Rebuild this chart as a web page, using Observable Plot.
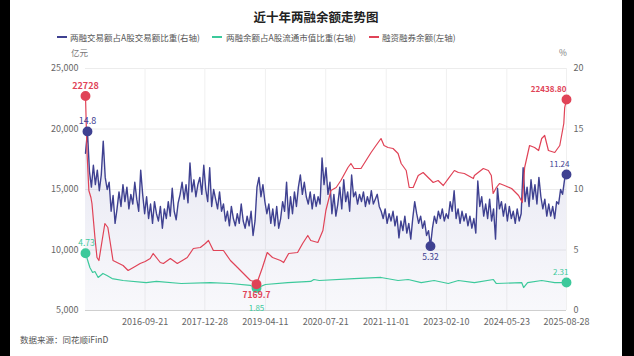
<!DOCTYPE html>
<html><head><meta charset="utf-8">
<script src="https://cdn.jsdelivr.net/npm/d3@7"></script>
<script src="https://cdn.jsdelivr.net/npm/@observablehq/plot@0.6"></script>
<style>
html,body{margin:0;padding:0;background:#000;width:634px;height:356px;overflow:hidden}
#card{position:absolute;left:10px;top:0;width:612px;height:356px;background:#fff;font-family:"Noto Sans CJK SC","Noto Sans",sans-serif;color:#555}
#title{position:absolute;left:0;width:612px;top:7px;text-align:center;font-size:12.5px;font-weight:bold;color:#222;line-height:20px}
.lg{position:absolute;top:31px;font-size:8.5px;line-height:12px;white-space:nowrap;color:#555}
.mk{position:absolute;top:36px;width:10px;height:2px}
.unit{position:absolute;top:46px;font-size:8.5px;line-height:12px;color:#777}
#src{position:absolute;left:10px;top:333px;font-size:8.5px;line-height:12px;color:#555}
#chart{position:absolute;left:0;top:46px}
</style></head>
<body>
<div id="card">
  <div id="title">近十年两融余额走势图</div>
  <div class="mk" style="left:47px;background:#3f4191"></div><div class="lg" style="left:60px">两融交易额占A股交易额比重(右轴)</div>
  <div class="mk" style="left:202px;background:#3cc99b"></div><div class="lg" style="left:216px">两融余额占A股流通市值比重(右轴)</div>
  <div class="mk" style="left:359px;background:#e04357"></div><div class="lg" style="left:372px">融资融券余额(左轴)</div>
  <div class="unit" style="left:61px">亿元</div>
  <div class="unit" style="left:549px">%</div>
  <div id="chart"></div>
  <div id="src">数据来源：同花顺iFinD</div>
</div>
<script>
// ---- data ----
const xTicks = ["2016-09-21","2017-12-28","2019-04-11","2020-07-21","2021-11-01","2023-02-10","2024-05-23","2025-08-28"];
const leftTicks = [5000,10000,15000,20000,25000];

// 融资融券余额 (亿元, left axis)
const redDates = ["2015-06-18","2015-06-29","2015-07-14","2015-07-30","2015-08-07","2015-08-30","2015-09-15","2015-09-30","2015-10-31","2015-11-15","2015-12-08","2015-12-24","2016-01-17","2016-04-04","2016-05-13","2016-07-06","2016-08-14","2016-09-22","2016-10-31","2016-11-23","2017-01-17","2017-02-10","2017-04-05","2017-05-29","2017-07-07","2017-08-14","2017-09-30","2017-11-23","2018-01-01","2018-01-25","2018-03-04","2018-05-21","2018-07-14","2018-09-07","2018-10-23","2018-12-16","2019-01-20","2019-02-01","2019-03-19","2019-04-25","2019-06-05","2019-08-06","2019-08-30","2019-10-08","2019-12-16","2020-01-24","2020-03-04","2020-03-27","2020-05-21","2020-06-29","2020-07-22","2020-08-30","2020-10-10","2020-11-15","2021-01-09","2021-02-01","2021-02-25","2021-04-20","2021-05-29","2021-07-07","2021-08-14","2021-09-22","2021-10-15","2021-11-15","2021-12-24","2022-02-01","2022-02-25","2022-04-05","2022-04-28","2022-05-29","2022-07-07","2022-08-14","2022-09-22","2022-10-31","2022-12-08","2023-01-17","2023-02-25","2023-04-13","2023-05-14","2023-06-29","2023-09-07","2023-09-15","2023-11-23","2024-01-01","2024-01-24","2024-02-07","2024-03-03","2024-03-27","2024-05-05","2024-06-29","2024-08-22","2024-09-20","2024-10-08","2024-11-15","2024-12-24","2025-01-24","2025-02-17","2025-03-12","2025-04-10","2025-05-29","2025-07-07","2025-08-07","2025-08-14","2025-08-28"];
const redValues = [22728,18222,14917,14338,13843,11033,9380,9132,11198,12190,11860,10785,9132,8719,8306,8636,8884,9050,9297,9711,8967,8884,9297,8884,9132,9380,10124,10206,10537,10785,9958,9958,9132,8554,8058,7479,7380,7169.7,8554,9793,9380,9132,8967,9711,9793,10537,11198,10785,10620,11611,13264,14917,15165,15743,16818,17148,16735,16735,17396,18057,18636,19214,18636,18470,18388,17974,17148,16570,15165,15165,16157,16405,15991,15578,15743,15330,15900,16570,16405,16322,15909,16157,16735,16570,16157,14669,15165,15495,15330,15082,14504,13925,16818,18636,18470,18222,19214,19462,18222,18057,18636,20454,21776,22438.80];

// 两融余额占A股流通市值比重 (%, right axis)
const greenDates = ["2015-06-18","2015-07-10","2015-07-22","2015-08-12","2015-08-30","2015-09-24","2015-10-31","2015-12-01","2016-01-10","2016-04-04","2016-09-30","2016-12-18","2017-06-28","2018-02-09","2018-07-14","2018-12-16","2019-02-01","2019-04-11","2019-10-01","2020-03-27","2020-04-20","2020-06-01","2021-02-25","2021-09-22","2022-02-01","2022-04-20","2022-07-30","2022-11-07","2023-02-25","2023-05-14","2023-09-15","2024-02-09","2024-03-03","2024-09-15","2024-09-30","2024-10-31","2025-02-17","2025-05-29","2025-08-28"];
const greenValues = [4.73,3.97,3.55,3.14,3.22,2.73,3.06,2.89,2.64,2.48,2.31,2.40,2.23,2.31,2.23,2.07,1.85,2.15,2.31,2.40,2.56,2.48,2.64,2.73,2.48,2.56,2.31,2.48,2.23,2.48,2.31,2.56,2.23,2.31,1.90,2.31,2.48,2.31,2.31];

// 两融交易额占A股交易额比重 (%, right axis), semi-monthly readings
const blueStart = "2015-06-18", blueEnd = "2025-08-28";
const blueValues = [
13.0,14.8,11.5,10.2,12.0,10.4,11.6,9.9,11.2,14.0,
11.0,10.0,10.6,8.2,9.5,7.2,8.4,9.8,8.6,10.4,
9.0,10.2,8.4,9.6,8.8,10.6,9.2,8.2,11.6,9.6,
8.0,9.4,7.6,8.8,7.2,9.0,8.0,7.4,8.6,6.8,
8.4,7.6,9.0,7.8,10.1,8.2,7.5,8.9,9.6,10.6,
9.2,10.4,8.9,12.2,9.8,10.8,9.4,10.4,11.0,9.6,
12.0,10.0,9.0,11.8,8.6,10.0,9.2,8.4,9.8,8.2,
8.8,7.4,8.2,7.0,8.6,7.6,7.0,8.0,7.2,8.8,
7.4,6.8,7.8,7.0,8.2,6.2,7.4,10.2,11.0,9.4,
10.4,9.0,8.0,8.8,7.2,8.4,7.0,8.6,6.8,7.6,
9.0,8.2,10.6,7.6,9.4,8.0,9.8,8.6,10.2,11.2,
9.6,10.6,9.4,8.8,9.8,8.4,9.6,8.6,9.4,8.8,
12.6,10.4,11.8,9.6,10.6,8.0,9.6,7.8,8.8,10.2,
8.4,10.8,9.0,9.8,8.2,11.2,9.4,9.8,8.8,9.6,
9.0,9.8,8.6,9.4,8.8,9.9,8.8,9.2,9.6,8.6,
8.2,7.6,8.4,7.2,8.0,7.4,8.2,7.0,7.8,6.0,
7.4,6.6,7.8,6.4,7.2,5.9,7.6,9.0,8.0,7.2,
7.8,6.8,7.4,6.2,6.6,5.32,6.8,7.8,7.2,8.2,
7.6,8.4,7.4,8.0,7.6,9.0,8.2,9.9,7.6,8.4,
7.2,8.2,7.4,8.0,7.0,7.8,6.8,7.6,6.4,10.7,
8.6,9.4,7.8,8.8,7.6,9.2,7.4,8.4,5.9,10.1,
8.4,9.0,7.8,8.8,7.4,8.6,7.6,8.2,7.2,8.4,
7.4,8.0,11.8,9.0,10.2,8.6,10.8,9.2,10.4,8.8,
11.0,9.4,8.4,9.2,7.8,8.8,7.8,8.6,7.6,9.0,
8.8,10.0,9.6,10.8,11.24];

// ---- build ----
const parse = d3.utcParse("%Y-%m-%d");
const BLUE = "#3f4191", GREEN = "#3cc99b", RED = "#e04357";
const r = v => 5000 + v * 1000; // right axis (0–20 %) onto left scale (5000–25000)
const red = redDates.map((d, i) => ({date: parse(d), v: redValues[i], y: redValues[i]}));
const green = greenDates.map((d, i) => ({date: parse(d), v: greenValues[i], y: r(greenValues[i])}));
const t0 = parse(blueStart), t1 = parse(blueEnd), n = blueValues.length;
const blue = blueValues.map((v, i) => ({date: new Date(+t0 + (t1 - t0) * i / (n - 1)), v, y: r(v)}));

function keyPoints(arr) {
  const mx = d3.greatest(arr, d => d.v), mn = d3.least(arr, d => d.v), last = arr[arr.length - 1];
  return {max: [{...mx, label: String(mx.v)}], min: [{...mn, label: String(mn.v)}], last: [{...last, label: last.v.toFixed(2)}]};
}
function annot(arr, color, opts) {
  const k = keyPoints(arr);
  return [
    Plot.dot([...k.max, ...k.min, ...k.last], {x: "date", y: "y", r: 4.2, fill: color, stroke: color}),
    Plot.text(k.max, {x: "date", y: "y", text: "label", dy: -10, dx: opts.maxDx || 0, fill: color, fontSize: opts.maxSize || 9, fontWeight: opts.bold ? "bold" : "normal"}),
    Plot.text(k.min, {x: "date", y: "y", text: "label", dy: opts.minDy || 11, fill: color, fontSize: opts.minSize || 8.5, fontWeight: opts.bold ? "bold" : "normal"}),
    Plot.text(k.last, {x: "date", y: "y", text: "label", dy: -10, dx: opts.lastDx || 0, textAnchor: "end", fill: color, fontSize: 8, fontWeight: opts.bold ? "bold" : "normal"})
  ];
}

const chart = Plot.plot({
  width: 612, height: 290,
  marginLeft: 75, marginRight: 56, marginTop: 22, marginBottom: 26,
  style: {fontFamily: '"Noto Sans CJK SC","Noto Sans",sans-serif', fontSize: "9px", color: "#666", background: "transparent"},
  x: {type: "utc", domain: [parse("2015-06-18"), parse("2025-08-28")]},
  y: {domain: [5000, 25000]},
  marks: [
    Plot.gridY(leftTicks.slice(1), {stroke: "#ececec", strokeOpacity: 1}),
    Plot.gridX(xTicks.map(parse), {stroke: "#f0f0f0", strokeOpacity: 1}),
    Plot.areaY(blue, {x: "date", y1: 5000, y2: "y", fill: "url(#blueGrad)"}),
    Plot.ruleY([5000], {stroke: "#cfcfcf"}),
    Plot.axisY(leftTicks, {anchor: "left", tickFormat: d3.format(","), tickSize: 0, tickPadding: 7, label: null}),
    Plot.axisY(leftTicks, {anchor: "right", tickFormat: d => (d - 5000) / 1000, tickSize: 0, tickPadding: 7, label: null, textAnchor: "start"}),
    Plot.axisX(xTicks.map(parse), {tickFormat: d3.utcFormat("%Y-%m-%d"), tickSize: 0, tickPadding: 8, label: null}),
    Plot.line(green, {x: "date", y: "y", stroke: GREEN, strokeWidth: 1.2}),
    Plot.line(blue, {x: "date", y: "y", stroke: BLUE, strokeWidth: 1.4}),
    Plot.line(red, {x: "date", y: "y", stroke: RED, strokeWidth: 1.2}),
    ...annot(green, GREEN, {maxDx: 1, maxSize: 8.5, minDy: 20, minSize: 8, lastDx: 2}),
    ...annot(blue, BLUE, {lastDx: 3}),
    ...annot(red, RED, {bold: true, minDy: 11, lastDx: 0})
  ]
});
const defs = document.createElementNS("http://www.w3.org/2000/svg", "defs");
defs.innerHTML = '<linearGradient id="blueGrad" x1="0" y1="0" x2="0" y2="1"><stop offset="0" stop-color="#5557a3" stop-opacity="0.14"/><stop offset="1" stop-color="#5557a3" stop-opacity="0.04"/></linearGradient>';
chart.insertBefore(defs, chart.firstChild);
document.getElementById("chart").appendChild(chart);
</script>
</body></html>
